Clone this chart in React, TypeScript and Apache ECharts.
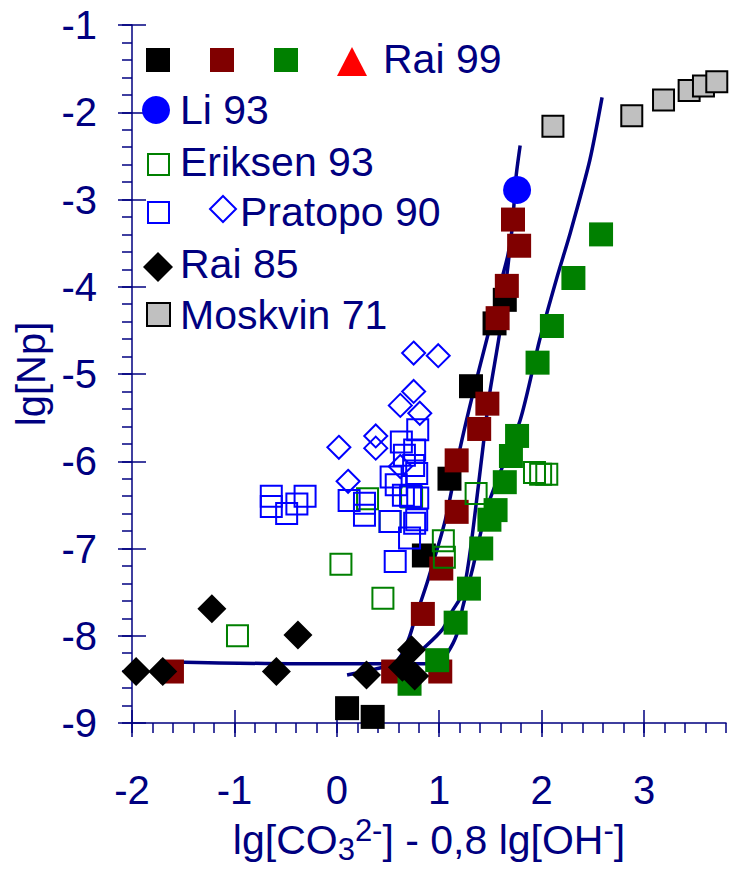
import React, { useEffect, useRef } from "react";
import * as echarts from "echarts";

const NAVY = "#000080";
const FONT = "'Liberation Sans', Arial, Helvetica, sans-serif";

// Rai 99 – three data sets drawn as filled squares
const rai99Black: number[][] = [
  [0.1, -8.83], [0.35, -8.93], [0.85, -7.08], [1.1, -6.2], [1.31, -5.14], [1.54, -4.42], [1.64, -4.15],
];
const rai99Red: number[][] = [
  [-1.61, -8.41], [0.55, -8.41], [1.01, -8.41], [0.84, -7.75], [1.02, -7.23], [1.17, -6.58], [1.17, -5.99],
  [1.39, -5.63], [1.47, -5.34], [1.57, -4.36], [1.66, -3.99], [1.78, -3.53], [1.72, -3.23],
];
const rai99Green: number[][] = [
  [0.71, -8.55], [0.98, -8.28], [1.16, -7.85], [1.29, -7.46], [1.41, -7.0], [1.49, -6.67], [1.55, -6.56],
  [1.64, -6.24], [1.7, -5.94], [1.76, -5.71], [1.96, -4.87], [2.1, -4.45], [2.31, -3.9], [2.58, -3.4],
];
// Li 93
const li93: number[][] = [[1.76, -2.89]];
// Eriksen 93
const eriksen93: number[][] = [
  [-0.97, -8.0], [0.04, -7.18], [0.45, -7.57], [0.3, -6.43], [0.52, -6.69], [0.73, -6.41], [1.04, -6.91],
  [1.05, -7.1], [1.36, -6.37], [1.93, -6.13], [1.99, -6.15], [2.05, -6.15],
];
// Pratopo 90 – squares and diamonds
const pratopo90Squares: number[][] = [
  [-0.64, -6.4], [-0.64, -6.52], [-0.49, -6.6], [-0.39, -6.49], [-0.31, -6.4], [0.12, -6.45], [0.27, -6.48],
  [0.27, -6.62], [0.52, -6.69], [0.57, -7.15], [0.71, -6.88], [0.76, -6.71], [0.78, -6.67], [0.79, -6.42],
  [0.65, -6.39], [0.58, -6.27], [0.53, -6.18], [0.78, -6.14], [0.66, -5.93], [0.76, -5.87], [0.63, -5.78],
  [0.79, -5.64], [0.72, -6.4], [0.75, -6.05],
];
const pratopo90Diamonds: number[][] = [
  [0.02, -5.84], [0.11, -6.23], [0.38, -5.71], [0.38, -5.85], [0.62, -5.36], [0.75, -5.2], [0.81, -5.45],
  [0.75, -4.76], [0.99, -4.79], [0.62, -6.06],
];
// Rai 85
const rai85: number[][] = [
  [-1.96, -8.41], [-1.7, -8.41], [-1.22, -7.69], [-0.59, -8.41], [-0.38, -7.99], [0.29, -8.45], [0.64, -8.36],
  [0.73, -8.16], [0.76, -8.46],
];
// Moskvin 71
const moskvin71: number[][] = [
  [2.11, -2.16], [2.88, -2.04], [3.19, -1.86], [3.44, -1.75], [3.58, -1.7], [3.71, -1.65],
];

// Model curves
const curveLeft: number[][] = [
  [0.57, -8.32], [0.64, -8.2], [0.71, -8.01], [0.76, -7.82], [0.89, -7.36], [1.06, -6.67], [1.2, -5.87],
  [1.33, -5.22], [1.48, -4.53], [1.62, -3.87], [1.67, -3.64], [1.71, -3.35], [1.75, -2.74], [1.79, -2.38],
];
const curveMiddle: number[][] = [
  [0.1, -8.45], [0.42, -8.37], [0.71, -8.28], [0.86, -8.13], [1.03, -7.93], [1.12, -7.73], [1.23, -7.51],
  [1.3, -7.05], [1.38, -6.3], [1.43, -5.81], [1.49, -5.24], [1.59, -4.53], [1.67, -3.77], [1.7, -3.45],
];
const curveRight: number[][] = [
  [-1.61, -8.3], [-0.46, -8.32], [1.0, -8.32], [1.08, -8.2], [1.17, -7.99], [1.23, -7.67], [1.33, -7.21],
  [1.47, -6.52], [1.79, -5.53], [1.98, -4.61], [2.15, -3.89], [2.28, -3.38], [2.47, -2.55], [2.59, -1.83],
];

const xMajorTicks = [-2, -1, 0, 1, 2, 3];
const yMajorTicks = [-9, -8, -7, -6, -5, -4, -3, -2, -1];
const X_MIN = -2;
const X_MAX = 3.8;
const Y_MIN = -9;
const Y_MAX = -1;

const xAxisName = "{t|lg[CO}{sub|3}{sup|2-}{t|] - 0,8 lg[OH}{sup|-}{t|]}";
const yAxisName = "lg[Np]";

const axisLineStyle = { color: NAVY, width: 1.5 };

function filledSquares(name: string, data: number[][], color: string) {
  return {
    name,
    type: "scatter",
    data,
    symbol: "rect",
    symbolSize: 24,
    itemStyle: { color, opacity: 1 },
    emphasis: { disabled: true },
    z: 3,
  };
}

function openSymbols(name: string, data: number[][], symbol: string, size: number, color: string) {
  return {
    name,
    type: "scatter",
    data,
    symbol,
    symbolSize: size,
    itemStyle: { color: "rgba(0,0,0,0)", borderColor: color, borderWidth: 2, opacity: 1 },
    emphasis: { disabled: true },
    z: 4,
  };
}

function curve(name: string, data: number[][]) {
  return {
    name,
    type: "line",
    data,
    showSymbol: false,
    symbol: "none",
    smooth: 0.25,
    lineStyle: { color: NAVY, width: 3.5 },
    emphasis: { disabled: true },
    z: 2,
  };
}

const textStyle = (text: string, x: number, y: number) => ({
  type: "text",
  x,
  y,
  style: {
    text,
    fill: NAVY,
    fontSize: 41,
    fontFamily: FONT,
    align: "left",
    verticalAlign: "middle",
  },
  z: 10,
});

const diamondPoints = (cx: number, cy: number, h: number) => [
  [cx, cy - h],
  [cx + h, cy],
  [cx, cy + h],
  [cx - h, cy],
];

const legendGraphics = [
  { type: "rect", shape: { x: 146, y: 48, width: 24, height: 24 }, style: { fill: "#000000" }, z: 10 },
  { type: "rect", shape: { x: 210, y: 48, width: 24, height: 24 }, style: { fill: "#800000" }, z: 10 },
  { type: "rect", shape: { x: 274, y: 48, width: 24, height: 24 }, style: { fill: "#008000" }, z: 10 },
  { type: "polygon", shape: { points: [[352, 47], [337, 76], [367, 76]] }, style: { fill: "#ff0000" }, z: 10 },
  textStyle("Rai 99", 383, 59),
  { type: "circle", shape: { cx: 156, cy: 110, r: 14 }, style: { fill: "#0000ff" }, z: 10 },
  textStyle("Li 93", 180, 110),
  { type: "rect", shape: { x: 148, y: 154, width: 21, height: 21 }, style: { fill: "none", stroke: "#008000", lineWidth: 2 }, z: 10 },
  textStyle("Eriksen 93", 180, 162),
  { type: "rect", shape: { x: 148, y: 202, width: 21, height: 21 }, style: { fill: "none", stroke: "#0000ff", lineWidth: 2 }, z: 10 },
  { type: "polygon", shape: { points: diamondPoints(223, 209, 13) }, style: { fill: "none", stroke: "#0000ff", lineWidth: 2 }, z: 10 },
  textStyle("Pratopo 90", 240, 212),
  { type: "polygon", shape: { points: diamondPoints(158, 267, 15) }, style: { fill: "#000000" }, z: 10 },
  textStyle("Rai 85", 180, 264),
  { type: "rect", shape: { x: 147, y: 303, width: 23, height: 23 }, style: { fill: "#c0c0c0", stroke: "#000000", lineWidth: 2 }, z: 10 },
  textStyle("Moskvin 71", 180, 315),
];

function buildOption() {
  const baseX = { type: "value", min: X_MIN, max: X_MAX, position: "bottom", splitLine: { show: false } };
  const baseY = { type: "value", min: Y_MIN, max: Y_MAX, position: "left", splitLine: { show: false } };
  return {
    animation: false,
    backgroundColor: "#ffffff",
    grid: { left: 132, top: 25, width: 594, height: 698, outerBoundsMode: "none", containLabel: false },
    xAxis: [
      {
        ...baseX,
        axisLine: { show: true, onZero: false, lineStyle: axisLineStyle },
        axisTick: { show: true, inside: false, length: 14, lineStyle: axisLineStyle, customValues: xMajorTicks },
        axisLabel: { customValues: xMajorTicks, margin: 47, color: NAVY, fontSize: 40, fontFamily: FONT },
        name: xAxisName,
        nameLocation: "middle",
        nameGap: 92,
        nameTextStyle: {
          color: NAVY,
          fontFamily: FONT,
          fontSize: 41,
          rich: {
            t: { fontSize: 41, lineHeight: 50, color: NAVY, fontFamily: FONT },
            sub: { fontSize: 31, lineHeight: 32, verticalAlign: "bottom", color: NAVY, fontFamily: FONT },
            sup: { fontSize: 31, lineHeight: 10, verticalAlign: "top", color: NAVY, fontFamily: FONT },
          },
        },
      },
      {
        ...baseX,
        axisLine: { show: false, onZero: false },
        axisTick: { show: true, inside: true, length: 13, lineStyle: axisLineStyle, customValues: xMajorTicks },
        axisLabel: { show: false },
      },
      {
        ...baseX,
        interval: 0.2,
        axisLine: { show: false, onZero: false },
        axisTick: { show: true, inside: false, length: 10, lineStyle: axisLineStyle },
        axisLabel: { show: false },
      },
    ],
    yAxis: [
      {
        ...baseY,
        interval: 1,
        axisLine: { show: true, onZero: false, lineStyle: axisLineStyle },
        axisTick: { show: true, inside: false, length: 14, lineStyle: axisLineStyle, customValues: yMajorTicks },
        axisLabel: { customValues: yMajorTicks, margin: 35, color: NAVY, fontSize: 40, fontFamily: FONT },
        name: yAxisName,
        nameLocation: "middle",
        nameGap: 74,
        nameTextStyle: { color: NAVY, fontFamily: FONT, fontSize: 40 },
      },
      {
        ...baseY,
        interval: 1,
        axisLine: { show: false, onZero: false },
        axisTick: { show: true, inside: true, length: 14, lineStyle: axisLineStyle, customValues: yMajorTicks },
        axisLabel: { show: false },
      },
      {
        ...baseY,
        interval: 0.2,
        axisLine: { show: false, onZero: false },
        axisTick: { show: true, inside: false, length: 10, lineStyle: axisLineStyle },
        axisLabel: { show: false },
      },
    ],
    series: [
      curve("curve-right", curveRight),
      curve("curve-middle", curveMiddle),
      curve("curve-left", curveLeft),
      filledSquares("Rai 99 a", rai99Black, "#000000"),
      filledSquares("Rai 99 b", rai99Red, "#800000"),
      filledSquares("Rai 99 c", rai99Green, "#008000"),
      {
        name: "Li 93",
        type: "scatter",
        data: li93,
        symbol: "circle",
        symbolSize: 28,
        itemStyle: { color: "#0000ff", opacity: 1 },
        emphasis: { disabled: true },
        z: 3,
      },
      {
        name: "Moskvin 71",
        type: "scatter",
        data: moskvin71,
        symbol: "rect",
        symbolSize: 21,
        itemStyle: { color: "#c0c0c0", borderColor: "#000000", borderWidth: 2, opacity: 1 },
        emphasis: { disabled: true },
        z: 3,
      },
      openSymbols("Eriksen 93", eriksen93, "rect", 21, "#008000"),
      openSymbols("Pratopo 90 squares", pratopo90Squares, "rect", 21, "#0000ff"),
      openSymbols("Pratopo 90 diamonds", pratopo90Diamonds, "diamond", 23, "#0000ff"),
      {
        name: "Rai 85",
        type: "scatter",
        data: rai85,
        symbol: "diamond",
        symbolSize: 29,
        itemStyle: { color: "#000000", opacity: 1 },
        emphasis: { disabled: true },
        z: 5,
      },
    ],
    graphic: legendGraphics,
  };
}

export default function App() {
  const ref = useRef<HTMLDivElement>(null);
  useEffect(() => {
    if (!ref.current) return;
    const chart = echarts.init(ref.current, null, { renderer: "svg" });
    chart.setOption(buildOption() as any);
    return () => chart.dispose();
  }, []);
  return (
    <div
      ref={ref}
      style={{ position: "absolute", left: 0, top: 0, width: 738, height: 874, background: "#ffffff" }}
    />
  );
}
